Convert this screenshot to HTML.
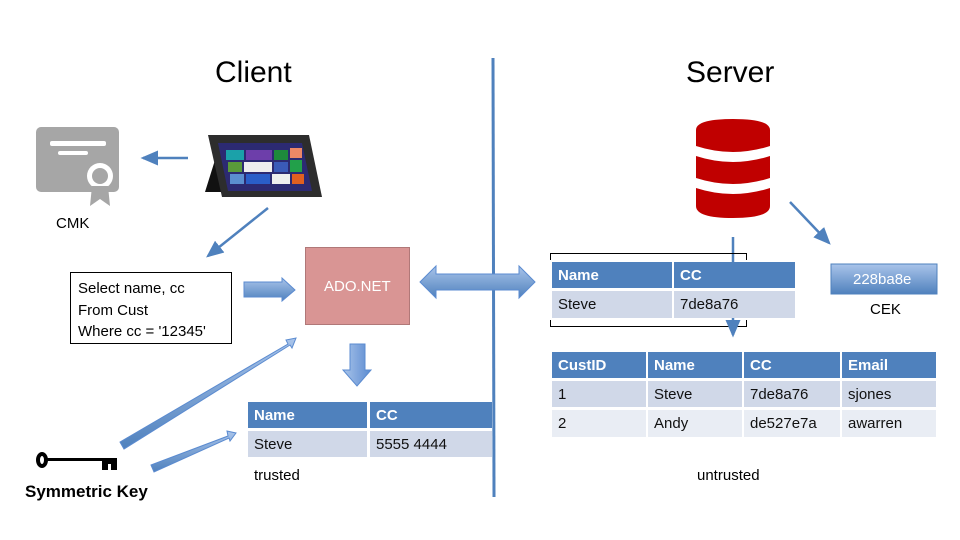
<!DOCTYPE html>
<html><head><meta charset="utf-8"><style>
body{margin:0;background:#fff;}
#c{position:relative;width:960px;height:540px;overflow:hidden;font-family:"Liberation Sans",sans-serif;}
.t{position:absolute;white-space:nowrap;}
.cell{position:absolute;box-sizing:border-box;padding-left:6px;font-size:15px;line-height:28px;color:#111;}
.h{background:#4f81bd;color:#fff;font-weight:bold;}
.r1{background:#d0d8e8;}
.r2{background:#e9edf4;}
</style></head><body><div id="c">
<svg width="960" height="540" style="position:absolute;left:0;top:0">
<defs>
<linearGradient id="bg" x1="0" y1="0" x2="0" y2="1"><stop offset="0" stop-color="#a9c4ea"/><stop offset="1" stop-color="#4f81bd"/></linearGradient>
<linearGradient id="bg2" x1="0" y1="0" x2="1" y2="0"><stop offset="0" stop-color="#a9c4ea"/><stop offset="1" stop-color="#5b8bd0"/></linearGradient>
<marker id="ah" markerWidth="8" markerHeight="8" refX="6" refY="4" orient="auto"><path d="M0,1 L7,4 L0,7z" fill="#4f81bd"/></marker>
</defs>
<line x1="493" y1="58" x2="494" y2="497" stroke="#4f81bd" stroke-width="3"/>
<rect x="36" y="127" width="83" height="65" rx="5" fill="#a6a6a6"/>
<rect x="50" y="141" width="56" height="5" rx="2" fill="#fff"/>
<rect x="58" y="151" width="30" height="4" rx="2" fill="#fff"/>
<circle cx="100" cy="176" r="13" fill="#fff"/>
<circle cx="100" cy="176" r="8" fill="#a6a6a6"/>
<path d="M92,186 L108,186 L110,206 L100,199 L90,206z" fill="#a6a6a6"/>
<line x1="188" y1="158" x2="143" y2="158" stroke="#4f81bd" stroke-width="2.5" marker-end="url(#ah)"/>
<path d="M215,160 L205,192 L222,192z" fill="#111"/>
<path d="M208,135 L309,135 L322,197 L222,197z" fill="#2d2d2d"/>
<path d="M218,143 L302,143 L312,191 L228,191z" fill="#2c2a72"/>
<rect x="226" y="150" width="18" height="10" fill="#1ba1a9"/><rect x="246" y="150" width="26" height="10" fill="#6d3eaa"/><rect x="274" y="150" width="14" height="10" fill="#1e8a3c"/><rect x="290" y="148" width="12" height="10" fill="#ee8866"/>
<rect x="228" y="162" width="14" height="10" fill="#5a9a3a"/><rect x="244" y="162" width="28" height="10" fill="#eee"/><rect x="274" y="162" width="14" height="10" fill="#3a5ab8"/><rect x="290" y="160" width="12" height="12" fill="#22a04a"/>
<rect x="230" y="174" width="14" height="10" fill="#5b8fd0"/><rect x="246" y="174" width="24" height="10" fill="#2a5ec8"/><rect x="272" y="174" width="18" height="10" fill="#eee"/><rect x="292" y="174" width="12" height="10" fill="#e06020"/>
<line x1="268" y1="208" x2="208" y2="256" stroke="#4f81bd" stroke-width="2.5" marker-end="url(#ah)"/>
<rect x="70.5" y="272.5" width="161" height="71" fill="#fff" stroke="#000"/>
<path d="M244,282 L282,282 L282,278 L295,290 L282,301 L282,297 L244,297z" fill="url(#bg)" stroke="#5b8bd0"/>
<rect x="305.5" y="247.5" width="104" height="77" fill="#d99594" stroke="#b07878"/>
<path d="M420,282 L436,266 L436,274 L519,274 L519,266 L535,282 L519,298 L519,290 L436,290 L436,298z" fill="url(#bg)" stroke="#5b8bd0"/>
<path d="M350,344 L365,344 L365,370 L371,370 L357,386 L343,370 L350,370z" fill="url(#bg2)" stroke="#5b8bd0"/>
<path d="M120,442 L288,344 L286,340 L296,338 L292,348 L290,345 L124,449z" fill="url(#bg)" stroke="#5b8bd0"/>
<path d="M151,465 L228,436 L227,431 L236,433 L230,441 L229,438 L154,472z" fill="url(#bg)" stroke="#5b8bd0"/>
<ellipse cx="42" cy="460" rx="6" ry="8" fill="#000"/><ellipse cx="42" cy="460" rx="2" ry="4" fill="#fff"/>
<rect x="47" y="458" width="70" height="3" fill="#000"/>
<rect x="102" y="460" width="15" height="10" fill="#000"/><rect x="108" y="464" width="3" height="6" fill="#fff"/>
<path d="M696,130 Q696,119 733,119 Q770,119 770,130 L770,146 Q733,158 696,146z" fill="#c00000"/>
<path d="M696,156 Q733,168 770,156 L770,178 Q733,190 696,178z" fill="#c00000"/>
<path d="M696,188 Q733,200 770,188 L770,206 Q770,218 733,218 Q696,218 696,206z" fill="#c00000"/>
<line x1="790" y1="202" x2="829" y2="243" stroke="#4f81bd" stroke-width="2.5" marker-end="url(#ah)"/>
<line x1="733" y1="237" x2="733" y2="262" stroke="#4f81bd" stroke-width="2.5"/>
<path d="M550.5,260 V253.5 H746.5 V260 M550.5,320 V326.5 H746.5 V320" fill="none" stroke="#000"/>
<line x1="733" y1="318" x2="733" y2="335" stroke="#4f81bd" stroke-width="2.5" marker-end="url(#ah)"/>
<rect x="831" y="264" width="106" height="30" fill="url(#bg)" stroke="#4f81bd"/>
</svg>
<div class="t" style="left:215px;top:56px;font-size:30px;">Client</div>
<div class="t" style="left:686px;top:56px;font-size:30px;">Server</div>
<div class="t" style="left:56px;top:215px;font-size:15px;">CMK</div>
<div class="t" style="left:78px;top:278px;font-size:15px;line-height:21.5px;">Select name, cc<br>From Cust<br>Where cc = '12345'</div>
<div class="t" style="left:324px;top:278px;font-size:15px;color:#fff;">ADO.NET</div>
<div class="t" style="left:25px;top:482px;font-size:17px;font-weight:bold;">Symmetric Key</div>
<div class="t" style="left:254px;top:467px;font-size:15px;">trusted</div>
<div class="t" style="left:697px;top:467px;font-size:15px;">untrusted</div>
<div class="t" style="left:853px;top:271px;font-size:15px;color:#fff;">228ba8e</div>
<div class="t" style="left:870px;top:301px;font-size:15px;">CEK</div>
<div class="cell h" style="left:248px;top:402px;width:119px;height:26px;">Name</div>
<div class="cell h" style="left:370px;top:402px;width:122px;height:26px;">CC</div>
<div class="cell r1" style="left:248px;top:431px;width:119px;height:26px;">Steve</div>
<div class="cell r1" style="left:370px;top:431px;width:122px;height:26px;">5555 4444</div>
<div class="cell h" style="left:552px;top:262px;width:120px;height:26px;">Name</div>
<div class="cell h" style="left:674px;top:262px;width:121px;height:26px;">CC</div>
<div class="cell r1" style="left:552px;top:291px;width:120px;height:27px;">Steve</div>
<div class="cell r1" style="left:674px;top:291px;width:121px;height:27px;">7de8a76</div>
<div class="cell h" style="left:552px;top:352px;width:94px;height:26px;">CustID</div>
<div class="cell h" style="left:648px;top:352px;width:94px;height:26px;">Name</div>
<div class="cell h" style="left:744px;top:352px;width:96px;height:26px;">CC</div>
<div class="cell h" style="left:842px;top:352px;width:94px;height:26px;">Email</div>
<div class="cell r1" style="left:552px;top:381px;width:94px;height:26px;">1</div>
<div class="cell r1" style="left:648px;top:381px;width:94px;height:26px;">Steve</div>
<div class="cell r1" style="left:744px;top:381px;width:96px;height:26px;">7de8a76</div>
<div class="cell r1" style="left:842px;top:381px;width:94px;height:26px;">sjones</div>
<div class="cell r2" style="left:552px;top:410px;width:94px;height:27px;">2</div>
<div class="cell r2" style="left:648px;top:410px;width:94px;height:27px;">Andy</div>
<div class="cell r2" style="left:744px;top:410px;width:96px;height:27px;">de527e7a</div>
<div class="cell r2" style="left:842px;top:410px;width:94px;height:27px;">awarren</div>
</div></body></html>
